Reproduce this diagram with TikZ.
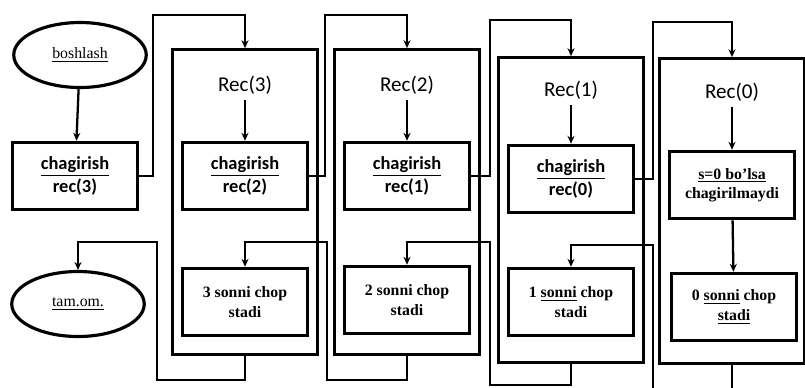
\documentclass[tikz,border=0pt]{standalone}
\usepackage{fontspec}
\setmainfont{Liberation Serif}
\newfontfamily\calib{Carlito}
\usetikzlibrary{arrows.meta,shapes.geometric}
\newcommand{\boxw}{2.5cm}
\newcommand{\boxh}{1.34cm}
\newcommand{\framew}{2.9cm}
\newcommand{\frameh}{6.1cm}
\tikzset{
  innerbox/.style={draw, line width=2pt, minimum width=\boxw, minimum height=\boxh, align=center, inner sep=1pt},
  framebox/.style={draw, line width=1.6pt, minimum width=\framew, minimum height=\frameh},
  oval/.style={draw, ellipse, line width=1.8pt, minimum width=2.65cm, minimum height=1.3cm, font=\fontsize{9}{10}\selectfont},
  reclabel/.style={font=\calib\fontsize{12}{13}\selectfont},
  callfont/.style={font=\calib\bfseries\fontsize{10.5}{13}\selectfont},
  printfont/.style={font=\bfseries\fontsize{9}{11}\selectfont},
  wire/.style={line width=1.3pt, -{Stealth[length=4.5pt,width=4pt]}},
}

\begin{document}
\begin{tikzpicture}[x=0.02cm, y=-0.02cm]
\useasboundingbox (0,0) rectangle (805,387);
\clip (0,0) rectangle (805,387);
% main
\node[oval] (start) at (80,55) {\underline{boshlash}};
\node[innerbox, callfont] (call3) at (75,176) {\underline{chagirish}\\rec(3)};
\node[oval] (stop) at (78,304) {\underline{tam.om.}};
% Rec(3)
\node[framebox] (rec3) at (245,202) {};
\node[reclabel] (lab3) at (245,85) {Rec(3)};
\node[innerbox, callfont] (call2) at (245,176) {\underline{chagirish}\\rec(2)};
\node[innerbox, printfont] (out3) at (245,302) {3 sonni chop\\stadi};
% Rec(2)
\node[framebox] (rec2) at (407,202) {};
\node[reclabel] (lab2) at (407,85) {Rec(2)};
\node[innerbox, callfont] (call1) at (407,176) {\underline{chagirish}\\rec(1)};
\node[innerbox, printfont] (out2) at (407,300) {2 sonni chop\\stadi};
% Rec(1)
\node[framebox] (rec1) at (571,210) {};
\node[reclabel] (lab1) at (571,90) {Rec(1)};
\node[innerbox, callfont] (call0) at (571,179) {\underline{chagirish}\\rec(0)};
\node[innerbox, printfont] (out1) at (571,302) {1 \underline{sonni} chop\\stadi};
% Rec(0)
\node[framebox] (rec0) at (732,211) {};
\node[reclabel] (lab0) at (732,92) {Rec(0)};
\node[innerbox, printfont] (zero) at (732,185) {\underline{s=0 bo'lsa}\\chagirilmaydi};
\node[innerbox, printfont] (out0) at (734,307) {0 \underline{sonni} chop\\\underline{stadi}};
% calls
\draw[wire] (start) -- (call3);
\draw[wire] (lab3) -- (call2);
\draw[wire] (lab2) -- (call1);
\draw[wire] (lab1) -- (call0);
\draw[wire] (lab0) -- (zero);
\draw[wire] (zero) -- (out0);
\coordinate (up3) at (153,15);
\coordinate (up2) at (325,15);
\coordinate (up1) at (490,20);
\coordinate (up0) at (653,22);
\draw[wire] (call3.east) -| (up3) -| (rec3.north);
\draw[wire] (call2.east) -| (up2) -| (rec2.north);
\draw[wire] (call1.east) -| (up1) -| (rec1.north);
\draw[wire] (call0.east) -| (up0) -| (rec0.north);
% returns
\coordinate (dn3) at (157,380);
\coordinate (bk3) at (157,242);
\coordinate (dn2) at (327,380);
\coordinate (bk2) at (327,242);
\coordinate (dn1) at (490,385);
\coordinate (bk1) at (490,242);
\coordinate (dn0) at (653,400);
\coordinate (bk0) at (653,245);
\draw[wire] (rec3.south) |- (dn3) -- (bk3) -| (stop.north);
\draw[wire] (rec2.south) |- (dn2) -- (bk2) -| (out3.north);
\draw[wire] (rec1.south) |- (dn1) -- (bk1) -| (out2.north);
\draw[wire] (rec0.south) |- (dn0) -- (bk0) -| (out1.north);
\end{tikzpicture}
\end{document}
